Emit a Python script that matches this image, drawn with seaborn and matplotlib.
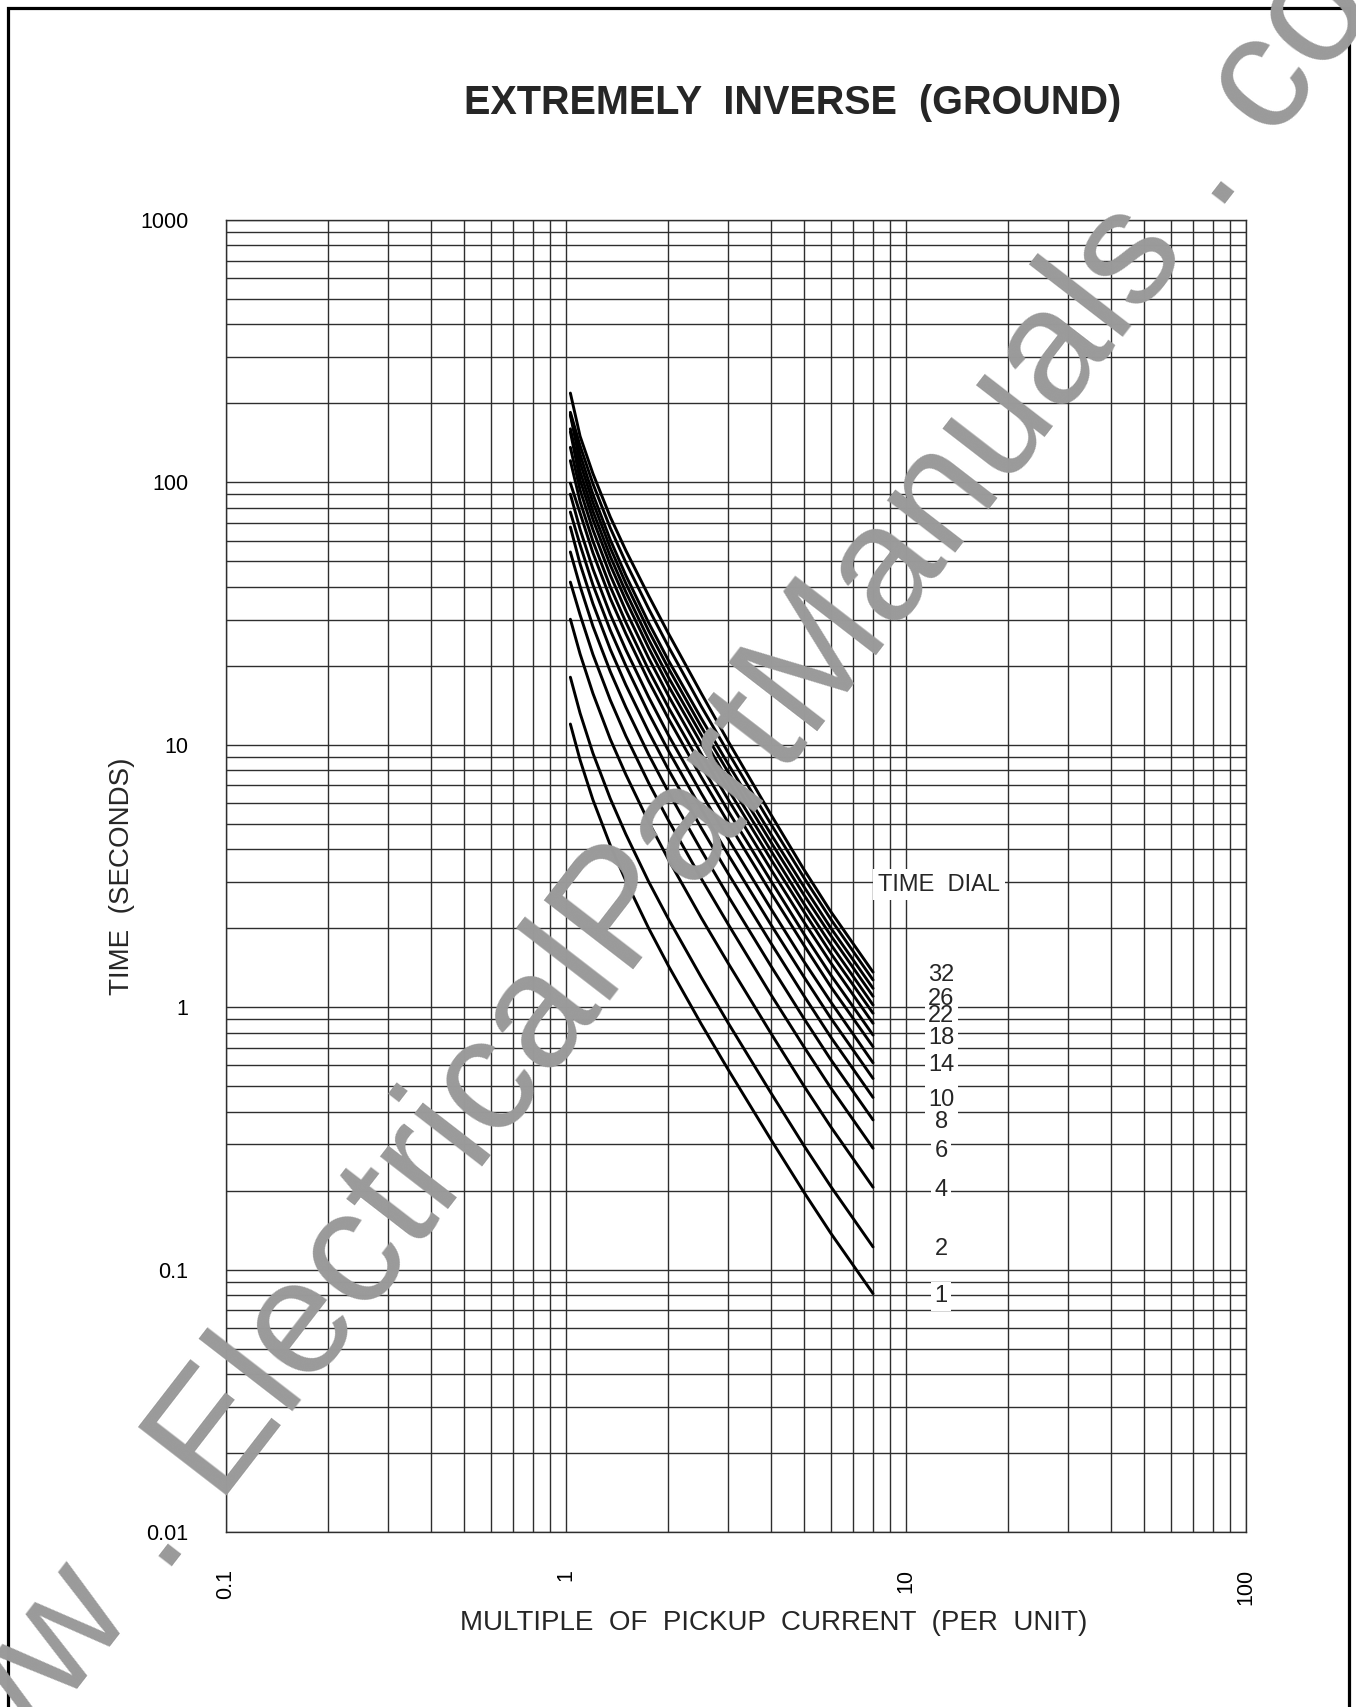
import matplotlib
matplotlib.use('Agg')
import matplotlib.pyplot as plt
import seaborn as sns
import pandas as pd
from matplotlib.patches import Rectangle
from matplotlib.ticker import FixedLocator, FixedFormatter, NullFormatter

# multiples of pickup current where the curves were read
multiples = [1.03, 1.1, 1.2, 1.35, 1.5, 1.75, 2, 2.5, 3, 4, 5, 6, 8]

# operating time (s)
td1 = [12.0, 8.75, 6.17, 4.14, 3.03, 2.00, 1.44, 0.862, 0.578, 0.314, 0.198, 0.138, 0.081]
td2 = [18.1, 13.2, 9.29, 6.23, 4.56, 3.01, 2.17, 1.30, 0.870, 0.473, 0.298, 0.208, 0.122]
td4 = [30.1, 22.2, 15.7, 10.5, 7.70, 5.08, 3.66, 2.19, 1.47, 0.798, 0.503, 0.351, 0.206]
td6 = [41.7, 31.3, 22.1, 14.8, 10.8, 7.16, 5.16, 3.09, 2.07, 1.12, 0.709, 0.494, 0.290]
td8 = [54.3, 40.2, 28.3, 19.0, 13.9, 9.18, 6.61, 3.96, 2.65, 1.44, 0.909, 0.633, 0.372]
td10 = [67.6, 48.9, 34.5, 23.1, 16.9, 11.2, 8.05, 4.82, 3.23, 1.76, 1.11, 0.771, 0.453]
td12 = [77.1, 57.8, 40.7, 27.3, 20.0, 13.2, 9.50, 5.69, 3.81, 2.07, 1.31, 0.911, 0.535]
td14 = [90.2, 66.3, 46.8, 31.4, 23.0, 15.2, 10.9, 6.53, 4.38, 2.38, 1.50, 1.05, 0.614]
td16 = [99.4, 76.4, 53.9, 36.1, 26.5, 17.5, 12.6, 7.53, 5.05, 2.74, 1.73, 1.20, 0.707]
td18 = [121, 84.6, 59.7, 40.0, 29.3, 19.3, 13.9, 8.34, 5.59, 3.04, 1.91, 1.33, 0.783]
td20 = [136, 93.6, 66.0, 44.3, 32.4, 21.4, 15.4, 9.22, 6.18, 3.36, 2.12, 1.48, 0.868]
td22 = [156, 102, 72.2, 48.4, 35.5, 23.4, 16.8, 10.1, 6.76, 3.67, 2.32, 1.61, 0.948]
td24 = [160, 110, 77.7, 52.2, 38.2, 25.2, 18.1, 10.9, 7.28, 3.96, 2.49, 1.74, 1.02]
td26 = [181, 119, 83.9, 56.3, 41.2, 27.2, 19.6, 11.7, 7.86, 4.27, 2.69, 1.88, 1.10]
td28 = [182, 128, 90.1, 60.4, 44.2, 29.2, 21.0, 12.6, 8.44, 4.58, 2.89, 2.01, 1.18]
td30 = [185, 138, 98.8, 67.0, 49.5, 33.0, 23.7, 14.0, 9.34, 5.00, 3.13, 2.17, 1.27]
td32 = [219, 150, 108, 73.8, 55.0, 37.0, 26.6, 15.7, 10.3, 5.44, 3.36, 2.32, 1.36]

dials = [1, 2, 4, 6, 8, 10, 12, 14, 16, 18, 20, 22, 24, 26, 28, 30, 32]
curves = [td1, td2, td4, td6, td8, td10, td12, td14, td16, td18, td20, td22,
          td24, td26, td28, td30, td32]
labelled_dials = [1, 2, 4, 6, 8, 10, 14, 18, 22, 26, 32]

x_ticks = [0.1, 1, 10, 100]
x_ticklabels = ['0.1', '1', '10', '100']
y_ticks = [0.01, 0.1, 1, 10, 100, 1000]
y_ticklabels = ['0.01', '0.1', '1', '10', '100', '1000']

rows = []
for d, t in zip(dials, curves):
    for m, v in zip(multiples, t):
        rows.append({'dial': d, 'multiple': m, 'time': v})
df = pd.DataFrame(rows)

sns.set_style('white')
plt.rcParams['font.family'] = ['Liberation Sans', 'DejaVu Sans']

W, H = 1356, 1707
fig = plt.figure(figsize=(W / 100, H / 100), dpi=100)
ax = fig.add_axes([226 / W, 175 / H, 1020 / W, 1312 / H])

sns.lineplot(data=df, x='multiple', y='time', hue='dial', units='dial',
             estimator=None, palette=['black'] * len(dials), legend=False,
             linewidth=2.1, ax=ax, zorder=3)

ax.set_xscale('log')
ax.set_yscale('log')
ax.set_xlim(0.1, 100)
ax.set_ylim(0.01, 1000)

minor_x = [k * 10.0 ** e for e in range(-1, 2) for k in range(2, 10)]
minor_y = [k * 10.0 ** e for e in range(-2, 3) for k in range(2, 10)]
ax.xaxis.set_major_locator(FixedLocator(x_ticks))
ax.xaxis.set_major_formatter(FixedFormatter(x_ticklabels))
ax.yaxis.set_major_locator(FixedLocator(y_ticks))
ax.yaxis.set_major_formatter(FixedFormatter(y_ticklabels))
ax.xaxis.set_minor_locator(FixedLocator(minor_x))
ax.yaxis.set_minor_locator(FixedLocator(minor_y))
ax.xaxis.set_minor_formatter(NullFormatter())
ax.yaxis.set_minor_formatter(NullFormatter())

ax.grid(which='both', color='#2e2e2e', linewidth=1.0)
for s in ax.spines.values():
    s.set_color('#2e2e2e')
    s.set_linewidth(1.0)

ax.tick_params(which='major', direction='inout', length=20, width=1.3,
               color='#444444', labelsize=15.5, labelcolor='black')
ax.tick_params(axis='y', which='major', pad=17)
ax.tick_params(axis='x', which='major', pad=16.5, labelrotation=90)
ax.tick_params(which='minor', length=0)
ax.set_xlabel('')
ax.set_ylabel('')

# dial labels next to the curve ends: white patches first, then the numbers
box = dict(facecolor='white', edgecolor='none', pad=2.5)
for d, t in zip(dials, curves):
    if d in labelled_dials:
        ax.text(12.7, t[-1], str(d), ha='center', va='center_baseline',
                fontsize=17, color='none', zorder=4, bbox=box)
for d, t in zip(dials, curves):
    if d in labelled_dials:
        ax.text(12.7, t[-1], str(d), ha='center', va='center_baseline',
                fontsize=17, zorder=5)
ax.text(12.5, 3, 'TIME  DIAL', ha='center', va='center_baseline', fontsize=17,
        zorder=5, bbox=dict(facecolor='white', edgecolor='none', pad=3.5))

fig.text(793 / W, 1 - 103 / H, 'EXTREMELY  INVERSE  (GROUND)', ha='center',
         va='center', fontsize=28.5, fontweight='bold')
fig.text(774 / W, 1 - 1623 / H, 'MULTIPLE  OF  PICKUP  CURRENT  (PER  UNIT)',
         ha='center', va='center', fontsize=20)
fig.text(122 / W, 1 - 876 / H, 'TIME  (SECONDS)', ha='center', va='center',
         rotation=90, fontsize=20)

# page border
fig.add_artist(Rectangle((7.5 / W, -0.02), (W - 15) / W, 1 - 7.8 / H + 0.02,
                         transform=fig.transFigure, fill=False,
                         edgecolor='black', linewidth=2.3))

# scanned-page watermark
fig.text(-81 / W, 1 - 1895 / H, 'www . ElectricalPartManuals . com',
         ha='left', va='baseline', rotation=52.3, rotation_mode='anchor',
         fontsize=118, color='#9a9a9a', zorder=10)

fig.savefig('out.png', dpi=100)
